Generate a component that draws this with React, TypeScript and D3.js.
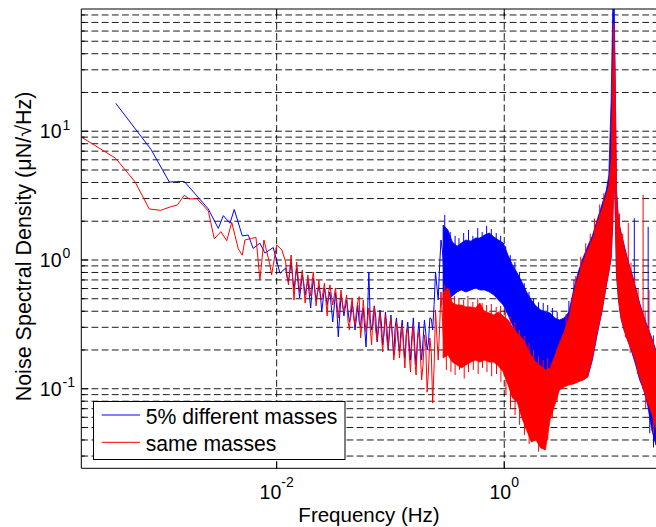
import { useEffect, useRef } from "react";
import * as d3 from "d3";

// low-frequency part of each spectrum (Hz, µN/√Hz)
const blueLowF = [3.85e-4, 7.86e-4, 1.14e-3, 1.54e-3, 2.51e-3, 3.07e-3, 3.4e-3, 3.89e-3, 4.24e-3, 4.99e-3, 5.63e-3, 6.22e-3, 7.13e-3, 7.89e-3, 9.33e-3, 1.07e-2];
const blueLowV = [16.5, 7.24, 4.03, 4.08, 2.49, 1.76, 2.21, 1.93, 2.47, 1.54, 1.56, 1.23, 1.35, 1.13, 1.25, 0.788];
const redLowF = [1.93e-4, 3.85e-4, 5.69e-4, 7.59e-4, 9.57e-4, 1.17e-3, 1.34e-3, 1.54e-3, 1.71e-3, 2.0e-3, 2.51e-3, 2.83e-3, 3.24e-3, 3.64e-3, 4.03e-3, 4.6e-3, 4.99e-3, 5.26e-3, 6.03e-3, 6.58e-3, 7.13e-3, 7.73e-3, 8.73e-3, 9.03e-3, 1.0e-2, 1.11e-2];
const redLowV = [9.0, 6.16, 4.05, 2.49, 2.43, 2.59, 2.67, 3.18, 2.98, 2.99, 2.4, 1.46, 1.66, 1.41, 1.96, 1.22, 1.09, 1.43, 1.47, 1.5, 0.7, 1.43, 0.915, 0.765, 1.31, 1.2];

// noisy middle part, one value per frequency bin (two interleaved sets of bins)
const midF = [0.012, 0.0127, 0.0134, 0.0142, 0.015, 0.0159, 0.0168, 0.0178, 0.0188, 0.0199, 0.021, 0.0222, 0.0235, 0.0249, 0.0263, 0.0278, 0.0294, 0.0311, 0.0329, 0.0348, 0.0368, 0.039, 0.0412, 0.0436, 0.0461, 0.0488, 0.0516, 0.0546, 0.0577, 0.061, 0.0646, 0.0683, 0.0722, 0.0764, 0.0808, 0.0855, 0.0904, 0.0956, 0.101, 0.107, 0.113, 0.12, 0.127, 0.134, 0.142, 0.15, 0.159, 0.168, 0.178, 0.188, 0.199, 0.21, 0.222, 0.235, 0.249, 0.263, 0.278, 0.294];
const blueMidV = [0.866, 0.675, 0.965, 0.585, 0.866, 0.507, 0.765, 0.535, 0.699, 0.424, 0.72, 0.489, 0.628, 0.395, 0.606, 0.447, 0.565, 0.33, 0.556, 0.253, 0.526, 0.368, 0.489, 0.33, 0.463, 0.286, 0.447, 0.302, 0.424, 0.211, 0.807, 0.286, 0.44, 0.231, 0.409, 0.219, 0.395, 0.2, 0.374, 0.183, 0.355, 0.193, 0.342, 0.173, 0.33, 0.167, 0.355, 0.153, 0.33, 0.167, 0.342, 0.2, 0.355, 0.286, 0.807, 0.489, 1.43, 0.836];
const redMidV = [0.965, 0.64, 1.093, 0.489, 0.965, 0.565, 0.836, 0.463, 0.765, 0.526, 0.807, 0.44, 0.699, 0.489, 0.66, 0.368, 0.64, 0.447, 0.606, 0.355, 0.585, 0.395, 0.535, 0.286, 0.507, 0.313, 0.472, 0.248, 0.489, 0.276, 0.424, 0.219, 0.44, 0.239, 0.395, 0.193, 0.374, 0.207, 0.355, 0.167, 0.33, 0.173, 0.313, 0.145, 0.297, 0.135, 0.307, 0.128, 0.276, 0.117, 0.262, 0.094, 0.248, 0.0774, 0.409, 0.167, 0.565, 0.219];
const midF2 = [0.0123, 0.0146, 0.0173, 0.0205, 0.0242, 0.0285, 0.0338, 0.0379, 0.04, 0.0424, 0.0448, 0.0474, 0.0502, 0.0531, 0.0561, 0.0593, 0.0628, 0.0664, 0.0702, 0.0743, 0.0786, 0.0831, 0.0879, 0.093, 0.0983, 0.104, 0.11, 0.1165, 0.1235, 0.1305, 0.138, 0.146, 0.1545, 0.1635, 0.173, 0.183, 0.1935, 0.2045, 0.216, 0.2285, 0.242, 0.256, 0.2705, 0.286];
const blueMid2V = [0.74, 0.72, 0.66, 0.58, 0.55, 0.5, 0.41, 0.46, 0.42, 0.4, 0.36, 0.39, 0.35, 0.33, 0.38, 0.3, 0.37, 0.35, 0.31, 0.36, 0.29, 0.33, 0.27, 0.3, 0.28, 0.25, 0.3, 0.24, 0.28, 0.22, 0.27, 0.23, 0.26, 0.21, 0.25, 0.22, 0.24, 0.27, 0.23, 0.35, 0.45, 0.62, 0.9, 1.2];
const redMid2V = [0.78, 0.7, 0.62, 0.68, 0.52, 0.55, 0.48, 0.45, 0.46, 0.33, 0.42, 0.36, 0.4, 0.52, 0.31, 0.36, 0.33, 0.3, 0.37, 0.28, 0.33, 0.27, 0.29, 0.24, 0.31, 0.26, 0.21, 0.28, 0.24, 0.2, 0.26, 0.19, 0.23, 0.17, 0.24, 0.19, 0.155, 0.21, 0.14, 0.19, 0.15, 0.25, 0.3, 0.36];

// dense high-frequency part: upper and lower edge of the noise band
const bandF = [0.29, 0.32, 0.35, 0.385, 0.42, 0.46, 0.51, 0.56, 0.61, 0.67, 0.74, 0.81, 0.89, 0.98, 1.08, 1.18, 1.3, 1.43, 1.57, 1.73, 1.9, 2.09, 2.3, 2.53, 2.78, 3.06, 3.36, 3.7, 4.07, 4.47, 4.92, 5.41, 5.95, 6.55, 7.2, 7.9, 8.3, 8.7, 9.0, 9.2, 9.4, 9.7, 10.1, 10.6, 11.3, 12.2, 13.2, 14.3, 15.5, 16.8, 18.2, 19.8, 21.5, 23];
const blueHi = [1.87, 1.71, 1.38, 1.28, 1.355, 1.43, 1.4, 1.48, 1.48, 1.56, 1.62, 1.51, 1.43, 1.355, 1.09, 0.915, 0.793, 0.675, 0.564, 0.489, 0.44, 0.409, 0.395, 0.388, 0.355, 0.342, 0.355, 0.395, 0.585, 0.807, 1.036, 1.28, 1.54, 2.04, 2.67, 3.49, 4.57, 17.5, 95.5, 150, 35.7, 3.49, 2.04, 1.65, 1.31, 1.0, 0.793, 0.606, 0.464, 0.367, 0.302, 0.248, 0.2, 0.173];
const blueLo = [0.447, 0.489, 0.525, 0.564, 0.585, 0.564, 0.585, 0.606, 0.585, 0.585, 0.564, 0.535, 0.489, 0.447, 0.374, 0.313, 0.262, 0.219, 0.183, 0.161, 0.14, 0.1235, 0.111, 0.111, 0.117, 0.098, 0.107, 0.113, 0.113, 0.115, 0.117, 0.1235, 0.167, 0.262, 0.395, 0.64, 0.807, 1.036, 2.04, 5.0, 2.92, 0.765, 0.489, 0.355, 0.286, 0.235, 0.193, 0.153, 0.117, 0.098, 0.0748, 0.0479, 0.0366, 0.0335];
const redHi = [0.554, 0.606, 0.464, 0.447, 0.447, 0.432, 0.432, 0.424, 0.464, 0.395, 0.388, 0.374, 0.395, 0.367, 0.342, 0.302, 0.271, 0.248, 0.215, 0.18, 0.161, 0.15, 0.14, 0.145, 0.18, 0.227, 0.276, 0.355, 0.554, 0.738, 0.965, 1.2, 1.43, 1.94, 2.44, 3.2, 3.82, 5.98, 35.7, 69.2, 29.9, 3.2, 1.97, 1.62, 1.28, 0.965, 0.765, 0.585, 0.447, 0.355, 0.297, 0.239, 0.193, 0.167];
const redLo = [0.173, 0.183, 0.161, 0.153, 0.145, 0.153, 0.161, 0.167, 0.161, 0.167, 0.161, 0.161, 0.15, 0.135, 0.107, 0.0849, 0.079, 0.0593, 0.0479, 0.0386, 0.04, 0.0347, 0.0335, 0.0573, 0.0748, 0.098, 0.103, 0.107, 0.109, 0.113, 0.117, 0.1235, 0.173, 0.271, 0.395, 0.64, 0.807, 1.036, 2.04, 5.0, 2.92, 0.765, 0.489, 0.355, 0.286, 0.235, 0.2, 0.161, 0.1235, 0.098, 0.079, 0.0637, 0.0496, 0.04];

// single noise spikes poking out of the band (from a value inside the band to the tip)
const blueSpikeF = [0.3, 0.335, 0.37, 0.4, 0.44, 0.485, 0.53, 0.585, 0.64, 0.7, 0.77, 0.85, 0.93, 1.03, 1.13, 1.24, 1.36, 1.5, 1.65, 1.81, 2.0, 2.2, 2.41, 2.65, 2.92, 3.7, 4.1, 13.9, 18.4, 19.0, 20.5];
const blueSpikeBase = [1.0, 1.0, 1.0, 1.0, 1.0, 1.0, 1.0, 1.0, 1.0, 1.0, 1.0, 1.0, 0.9, 0.8, 0.7, 0.6, 0.5, 0.4, 0.35, 0.3, 0.3, 0.3, 0.3, 0.3, 0.28, 0.2, 0.3, 0.7, 0.3, 0.1, 0.08];
const blueSpikeTop = [2.24, 1.65, 1.54, 1.48, 1.62, 1.71, 1.54, 1.77, 1.65, 1.84, 1.74, 1.62, 1.54, 1.28, 1.09, 0.965, 0.807, 0.66, 0.564, 0.5, 0.47, 0.464, 0.447, 0.424, 0.395, 0.48, 0.7, 2.11, 1.81, 0.045, 0.035];
const redSpikeF = [0.3, 0.33, 0.365, 0.4, 0.44, 0.48, 0.53, 0.585, 0.64, 0.7, 0.77, 0.85, 0.93, 1.03, 1.13, 1.24, 1.36, 1.5, 1.65, 1.81, 2.0, 2.2, 2.41,
  0.31, 0.34, 0.37, 0.405, 0.445, 0.485, 0.535, 0.59, 0.645, 0.705, 0.775, 0.855, 0.935, 1.035, 1.135, 1.245, 1.365, 1.505, 1.655, 1.815, 2.005, 2.205, 2.415, 2.65, 2.92,
  3.5, 4.25, 4.7, 5.2, 5.7, 6.2, 6.9, 7.5,
  10.3, 11.0, 12.3, 13.0, 14.0, 15.0, 16.6, 17.3, 18.7, 20.5,
  10.3, 11.6, 12.8, 14.8, 17.5, 20.5];
const redSpikeBase = [0.25, 0.25, 0.25, 0.25, 0.25, 0.25, 0.25, 0.25, 0.25, 0.25, 0.25, 0.25, 0.25, 0.2, 0.18, 0.15, 0.12, 0.09, 0.08, 0.07, 0.07, 0.07, 0.07,
  0.25, 0.25, 0.25, 0.25, 0.25, 0.25, 0.25, 0.25, 0.25, 0.25, 0.25, 0.25, 0.22, 0.18, 0.15, 0.12, 0.1, 0.09, 0.08, 0.07, 0.07, 0.07, 0.07, 0.1, 0.14,
  0.15, 0.2, 0.25, 0.3, 0.35, 0.5, 0.7, 1.0,
  0.8, 0.6, 0.5, 0.4, 0.3, 0.25, 0.2, 0.2, 0.15, 0.12,
  0.9, 0.5, 0.4, 0.3, 0.2, 0.12];
const redSpikeTop = [0.64, 0.585, 0.525, 0.507, 0.489, 0.525, 0.472, 0.507, 0.464, 0.447, 0.455, 0.432, 0.44, 0.395, 0.367, 0.33, 0.286, 0.257, 0.227, 0.2, 0.18, 0.167, 0.173,
  0.14, 0.135, 0.128, 0.14, 0.12, 0.135, 0.14, 0.13, 0.145, 0.135, 0.125, 0.13, 0.113, 0.0895, 0.071, 0.0624, 0.0524, 0.0438, 0.0373, 0.04, 0.0324, 0.036, 0.04, 0.059, 0.079,
  0.38, 0.75, 1.06, 1.35, 1.6, 2.1, 2.7, 3.3,
  2.3, 1.6, 1.94, 0.95, 0.75, 0.6, 3.2, 0.4, 0.585, 0.26,
  0.4, 0.25, 0.19, 0.13, 0.07, 0.045];

const yTicks = [0.1, 1, 10];
const yTickExp = ["-1", "0", "1"];
const xTicks = [0.01, 1];
const xTickExp = ["-2", "0"];
const legendLabels = ["5% different masses", "same masses"];

const BLUE = "#0000ff";
const RED = "#ff0000";
const FONT = "'Liberation Sans', Arial, Helvetica, sans-serif";

interface Series {
  color: string;
  lowF: number[];
  lowV: number[];
  midV: number[];
  mid2V: number[];
  hi: number[];
  lo: number[];
  spF: number[];
  spBase: number[];
  spTop: number[];
}

const series: Series[] = [
  { color: BLUE, lowF: blueLowF, lowV: blueLowV, midV: blueMidV, mid2V: blueMid2V, hi: blueHi, lo: blueLo, spF: blueSpikeF, spBase: blueSpikeBase, spTop: blueSpikeTop },
  { color: RED, lowF: redLowF, lowV: redLowV, midV: redMidV, mid2V: redMid2V, hi: redHi, lo: redLo, spF: redSpikeF, spBase: redSpikeBase, spTop: redSpikeTop },
];

export default function App() {
  const svgRef = useRef<SVGSVGElement>(null);

  useEffect(() => {
    const left = 81.3, top = 9, right = 657, bottom = 468.3;

    const svg = d3.select(svgRef.current);
    svg.selectAll("*").remove();

    const x = d3.scaleLog().domain([1.92e-4, 22]).range([left, right]);
    const y = d3.scaleLog().domain([0.0241, 89]).range([bottom, top]);

    svg.append("rect").attr("width", 656).attr("height", 527).attr("fill", "#fff");

    svg
      .append("clipPath")
      .attr("id", "plot-clip")
      .append("rect")
      .attr("x", left)
      .attr("y", top)
      .attr("width", right - left)
      .attr("height", bottom - top);

    // grid: every decade and sub-decade on y, majors only on x
    const yGrid: number[] = [];
    for (let e = -2; e <= 1; e++) {
      for (let k = 1; k <= 9; k++) {
        const v = k * Math.pow(10, e);
        if (v > 0.0241 && v < 89) yGrid.push(v);
      }
    }
    const grid = svg.append("g").attr("stroke", "#000").attr("stroke-width", 0.9).attr("stroke-dasharray", "6.8,3.4");
    grid
      .selectAll("line.h")
      .data(yGrid)
      .enter()
      .append("line")
      .attr("x1", left)
      .attr("x2", right)
      .attr("y1", (d) => y(d))
      .attr("y2", (d) => y(d));
    grid
      .selectAll("line.v")
      .data(xTicks)
      .enter()
      .append("line")
      .attr("x1", (d) => x(d))
      .attr("x2", (d) => x(d))
      .attr("y1", bottom)
      .attr("y2", top);

    const plot = svg.append("g").attr("clip-path", "url(#plot-clip)");

    const line = d3
      .line<[number, number]>()
      .x((d) => x(d[0]))
      .y((d) => y(d[1]));

    series.forEach((s) => {
      const g = plot.append("g");
      const area = d3
        .area<number>()
        .x((i) => x(bandF[i]))
        .y0((i) => y(s.lo[i]))
        .y1((i) => y(s.hi[i]));
      g.append("path")
        .attr("d", area(d3.range(bandF.length)))
        .attr("fill", s.color)
        .attr("stroke", s.color)
        .attr("stroke-width", 0.8);

      const mid: [number, number][] = midF
        .map((f, i) => [f, s.midV[i]] as [number, number])
        .concat(midF2.map((f, i) => [f, s.mid2V[i]] as [number, number]))
        .sort((a, b) => a[0] - b[0]);
      const trace: [number, number][] = s.lowF.map((f, i) => [f, s.lowV[i]] as [number, number]).concat(mid);
      g.append("path")
        .attr("d", line(trace))
        .attr("fill", "none")
        .attr("stroke", s.color)
        .attr("stroke-width", 1);

      g.selectAll("line")
        .data(s.spF)
        .enter()
        .append("line")
        .attr("x1", (d) => x(d))
        .attr("x2", (d) => x(d))
        .attr("y1", (d, i) => y(s.spBase[i]))
        .attr("y2", (d, i) => y(s.spTop[i]))
        .attr("stroke", s.color)
        .attr("stroke-width", 1);
    });

    // axes box (right side falls outside the picture)
    const axes = svg.append("g").attr("stroke", "#000").attr("stroke-width", 1).attr("fill", "none");
    axes.append("line").attr("x1", left).attr("x2", left).attr("y1", top).attr("y2", bottom);
    axes.append("line").attr("x1", left).attr("x2", right).attr("y1", top).attr("y2", top);
    axes.append("line").attr("x1", left).attr("x2", right).attr("y1", bottom).attr("y2", bottom);

    // ticks
    const minor = yGrid.filter((v) => !yTicks.includes(v));
    axes
      .selectAll("line.ym")
      .data(minor)
      .enter()
      .append("line")
      .attr("x1", left)
      .attr("x2", left + 3.5)
      .attr("y1", (d) => y(d))
      .attr("y2", (d) => y(d));
    axes
      .selectAll("line.yM")
      .data(yTicks)
      .enter()
      .append("line")
      .attr("x1", left)
      .attr("x2", left + 7)
      .attr("y1", (d) => y(d))
      .attr("y2", (d) => y(d));
    xTicks.forEach((t) => {
      axes.append("line").attr("x1", x(t)).attr("x2", x(t)).attr("y1", bottom).attr("y2", bottom - 7);
      axes.append("line").attr("x1", x(t)).attr("x2", x(t)).attr("y1", top).attr("y2", top + 7);
    });

    // tick labels
    const labels = svg.append("g").attr("font-family", FONT).attr("fill", "#000");
    yTicks.forEach((t, i) => {
      labels
        .append("text")
        .attr("x", 61.5)
        .attr("y", y(t) + 7)
        .attr("text-anchor", "end")
        .attr("font-size", 19.5)
        .text("10");
      labels
        .append("text")
        .attr("x", 62.5)
        .attr("y", y(t) - 1.5)
        .attr("font-size", 14)
        .text(yTickExp[i]);
    });
    xTicks.forEach((t, i) => {
      const tx = labels
        .append("text")
        .attr("x", x(t))
        .attr("y", 499)
        .attr("text-anchor", "middle")
        .attr("font-size", 19.5);
      tx.append("tspan").text("10");
      tx.append("tspan").attr("dy", -12.5).attr("font-size", 14).text(xTickExp[i]);
    });

    labels
      .append("text")
      .attr("x", 369)
      .attr("y", 521.5)
      .attr("text-anchor", "middle")
      .attr("font-size", 20.5)
      .text("Frequency (Hz)");
    labels
      .append("text")
      .attr("transform", "translate(31,246.5) rotate(-90)")
      .attr("text-anchor", "middle")
      .attr("font-size", 21.5)
      .text("Noise Spectral Density (\u03bcN/\u221aHz)");

    // legend
    const legend = svg.append("g");
    legend
      .append("rect")
      .attr("x", 93.5)
      .attr("y", 401.5)
      .attr("width", 251.5)
      .attr("height", 58)
      .attr("fill", "#fff")
      .attr("stroke", "#000")
      .attr("stroke-width", 1);
    [BLUE, RED].forEach((c, i) => {
      const ly = i === 0 ? 415 : 442.3;
      legend.append("line").attr("x1", 101.7).attr("x2", 140).attr("y1", ly).attr("y2", ly).attr("stroke", c).attr("stroke-width", 1);
      legend
        .append("text")
        .attr("x", 145.7)
        .attr("y", ly + 8.5)
        .attr("font-family", FONT)
        .attr("font-size", 21.2)
        .text(legendLabels[i]);
    });
  }, []);

  return (
    <svg
      ref={svgRef}
      width={656}
      height={527}
      style={{ position: "absolute", left: 0, top: 0, display: "block" }}
    />
  );
}
